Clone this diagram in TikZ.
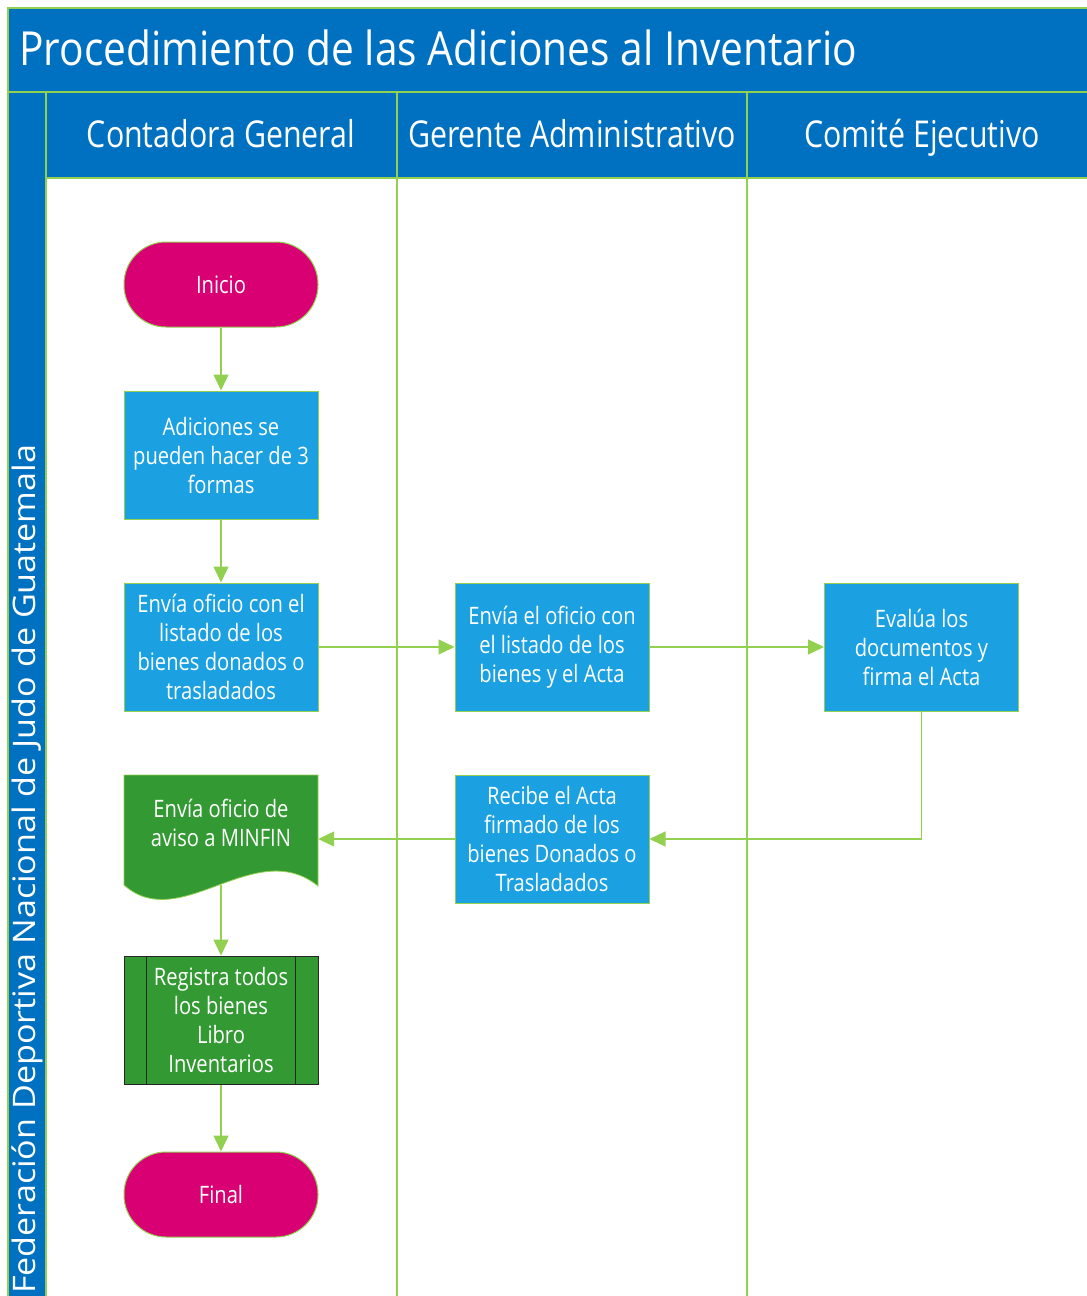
\documentclass[tikz,border=0pt]{standalone}
\usepackage{fontspec}
\setmainfont{Open Sans}
\newfontfamily\nf[FakeStretch=0.84]{Open Sans}
\newfontfamily\hf[FakeStretch=0.82]{Open Sans}
\newfontfamily\tf[FakeStretch=0.865]{Open Sans}
\newfontfamily\vf[FakeStretch=1.1]{Open Sans}
\usetikzlibrary{arrows.meta}
\definecolor{hdr}{HTML}{0070C0}
\definecolor{boxblue}{HTML}{1BA1E2}
\definecolor{mag}{HTML}{D80073}
\definecolor{grn}{HTML}{339933}
\definecolor{lg}{HTML}{92D050}
\begin{document}
\begin{tikzpicture}[x=1pt,y=-1pt,
  boxtxt/.style={text=white, align=center, font=\nf\fontsize{24}{29}\selectfont, inner sep=0pt},
  proc/.style={boxtxt, draw=lg, line width=1pt, fill=boxblue, minimum width=194pt, minimum height=128pt},
  term/.style={boxtxt, draw=lg, line width=1pt, fill=mag, minimum width=194pt, minimum height=85pt, rounded corners=42pt},
  sub/.style={boxtxt, draw=black!85, line width=1pt, fill=grn, minimum width=194pt, minimum height=128pt},
  lanehdr/.style={text=white, font=\hf\fontsize{37}{44}\selectfont, inner sep=0pt, anchor=base},
  frame/.style={draw=lg, line width=1.5pt},
  conn/.style={draw=lg, line width=1.3pt, -{Triangle[length=16pt,width=15pt]}}
]
\useasboundingbox (0,0) rectangle (1087,1296);
% background bands
\fill[hdr] (8,8) rectangle (1087,178);
\fill[hdr] (8,92) rectangle (46,1296);
\draw[frame] (8,1296) -- (8,8) -- (1087,8);
\draw[frame] (8,92) -- (1087,92);
\draw[frame] (46,92) -- (46,1296);
\draw[frame] (46,178) -- (1087,178);
\draw[frame] (397,92) -- (397,1296);
\draw[frame] (747,92) -- (747,1296);
% titles
\node[text=white, font=\tf\fontsize{47}{56}\selectfont, inner sep=0pt, anchor=base west] (title) at (19,65) {Procedimiento de las Adiciones al Inventario};
\node[lanehdr] (h1) at (221,147) {Contadora General};
\node[lanehdr] (h2) at (572,147) {Gerente Administrativo};
\node[lanehdr] (h3) at (922,147) {Comité Ejecutivo};
\node[text=white, font=\vf\fontsize{31}{36}\selectfont, inner sep=0pt, rotate=90, anchor=west] (pool) at (27,1294) {Federación Deportiva Nacional de Judo de Guatemala};
% nodes
\node[term] (ini) at (221,284.5) {Inicio};
\node[proc] (adi) at (221,455) {Adiciones se\\pueden hacer de 3\\formas};
\node[proc] (env1) at (221,647) {Envía oficio con el\\listado de los\\bienes donados o\\trasladados};
\node[proc] (env2) at (552,647) {Envía el oficio con\\el listado de los\\bienes y el Acta};
\node[proc] (eva) at (921.5,647) {Evalúa los\\documentos y\\firma el Acta};
\node[proc] (rec) at (552,839) {Recibe el Acta\\firmado de los\\bienes Donados o\\Trasladados};
\fill[grn, draw=lg, line width=0.8pt] (124,775) -- (318,775) -- (318,886) .. controls (255,835) and (180,935) .. (124,885) -- cycle;
\node[boxtxt, minimum width=194pt, minimum height=95pt] (doc) at (221,822.5) {Envía oficio de\\aviso a MINFIN};
\coordinate (docb) at (221,885);
\node[sub] (reg) at (221,1020) {Registra todos\\los bienes\\Libro\\Inventarios};
\draw[black!85, line width=1pt] ([xshift=23pt]reg.north west) -- ([xshift=23pt]reg.south west);
\draw[black!85, line width=1pt] ([xshift=-23pt]reg.north east) -- ([xshift=-23pt]reg.south east);
\node[term] (fin) at (221,1194.5) {Final};
% connectors
\draw[conn] (ini) -- (adi);
\draw[conn] (adi) -- (env1);
\draw[conn] (env1) -- (env2);
\draw[conn] (env2) -- (eva);
\draw[conn] (eva.south) |- (rec.east);
\draw[conn] (rec.west) -- (rec.west -| doc.east);
\draw[conn] (docb) -- (reg);
\draw[conn] (reg) -- (fin);
\end{tikzpicture}
\end{document}
